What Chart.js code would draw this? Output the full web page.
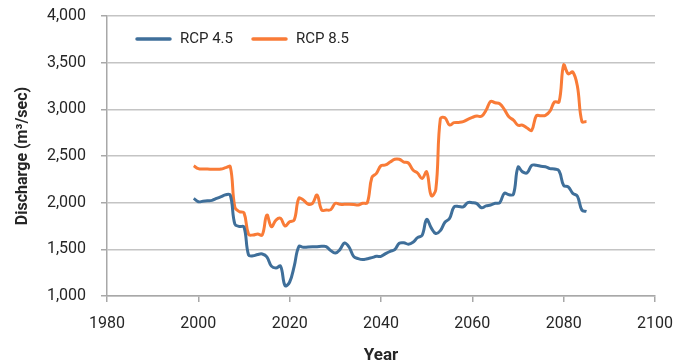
<!DOCTYPE html>
<html>
<head>
<meta charset="utf-8">
<script src="https://cdn.jsdelivr.net/npm/chart.js@4/dist/chart.umd.min.js"></script>
<style>
  body { margin: 0; background: #fff; }
  #wrap { width: 681px; height: 364px; }
</style>
</head>
<body>
<div id="wrap"><canvas id="dischargeChart" width="681" height="364"></canvas></div>
<script>
// Annual discharge, 1999-2085
const years = [];
for (let y = 1999; y <= 2085; y++) years.push(y);

const rcp45 = [
  2046, 2010, 2015, 2020, 2025, 2045, 2065, 2085, 2080, 1770,
  1745, 1740, 1440, 1430, 1445, 1450, 1420, 1320, 1300, 1320,
  1110, 1150, 1320, 1530, 1522, 1525, 1527, 1528, 1532, 1530,
  1486, 1461, 1497, 1568, 1525, 1425, 1400, 1390, 1400, 1411,
  1425, 1425, 1454, 1479, 1497, 1565, 1570, 1555, 1575, 1625,
  1650, 1820, 1730, 1670, 1700, 1790, 1830, 1955, 1960, 1955,
  2000, 2000, 1990, 1945, 1965, 1975, 1993, 2000, 2100, 2085,
  2090, 2380, 2330, 2320, 2400, 2400, 2390, 2385, 2365, 2360,
  2340, 2185, 2170, 2100, 2070, 1920, 1907
];

const rcp85 = [
  2395, 2365, 2360, 2360, 2358, 2357, 2360, 2375, 2385, 1950,
  1904, 1890, 1660, 1654, 1664, 1654, 1868, 1743, 1814, 1832,
  1750, 1796, 1814, 2046, 2029, 1986, 1993, 2082, 1921, 1921,
  1925, 1993, 1982, 1982, 1982, 1980, 1975, 1993, 2000, 2270,
  2314, 2396, 2404, 2435, 2465, 2465, 2435, 2425, 2350, 2318,
  2260, 2330, 2075, 2140, 2900, 2910, 2832, 2857, 2860, 2868,
  2893, 2914, 2928, 2925, 2990, 3085, 3070, 3060, 3000, 2920,
  2885, 2830, 2830, 2800, 2775, 2930, 2932, 2935, 2980, 3080,
  3080, 3475, 3380, 3400, 3250, 2868, 2870
];

const BLUE = '#3f6f9a';
const ORANGE = '#f97b37';
const GRID = '#c4c4c4';
const AXIS = '#a8a8a8';
const TEXT = '#262626';

const toPoints = (vals) => vals.map((v, i) => ({ x: years[i], y: v }));

// single-row legend inside the plot, top-left, line swatches
const inlineLegend = {
  id: 'inlineLegend',
  afterDraw(chart) {
    const { ctx, chartArea } = chart;
    let x = chartArea.left + 30;
    const y = chartArea.top + 23;
    ctx.save();
    ctx.font = '15px Roboto';
    ctx.textBaseline = 'middle';
    chart.data.datasets.forEach(ds => {
      ctx.strokeStyle = ds.borderColor;
      ctx.lineWidth = 3.5;
      ctx.lineCap = 'round';
      ctx.beginPath();
      ctx.moveTo(x, y);
      ctx.lineTo(x + 33, y);
      ctx.stroke();
      x += 43;
      ctx.fillStyle = TEXT;
      ctx.fillText(ds.label, x, y);
      x += ctx.measureText(ds.label).width + 20;
    });
    ctx.restore();
  }
};

new Chart(document.getElementById('dischargeChart'), {
  type: 'line',
  plugins: [inlineLegend],
  data: {
    datasets: [
      {
        label: 'RCP 4.5',
        data: toPoints(rcp45),
        borderColor: BLUE,
        backgroundColor: BLUE,
        borderWidth: 3,
        tension: 0.4,
        pointRadius: 0
      },
      {
        label: 'RCP 8.5',
        data: toPoints(rcp85),
        borderColor: ORANGE,
        backgroundColor: ORANGE,
        borderWidth: 3,
        tension: 0.4,
        pointRadius: 0
      }
    ]
  },
  options: {
    responsive: false,
    animation: false,
    layout: { padding: { top: 16, right: 26, left: 0, bottom: 0 } },
    plugins: {
      tooltip: { enabled: false },
      legend: { display: false }
    },
    scales: {
      x: {
        type: 'linear',
        min: 1980,
        max: 2100,
        afterFit: (scale) => {
          scale.height = 68;
          scale.paddingLeft = 0;
          scale.paddingRight = 0;
        },
        ticks: {
          stepSize: 20,
          color: TEXT,
          padding: 12,
          maxRotation: 0,
          font: { family: 'Roboto', size: 16 },
          callback: (v) => String(v)
        },
        grid: { drawOnChartArea: false, drawTicks: true, tickLength: 6, color: AXIS, lineWidth: 1.5 },
        border: { color: AXIS, width: 1.5 },
        title: {
          display: true,
          text: 'Year',
          color: TEXT,
          font: { family: 'Roboto', size: 17, weight: 'bold' },
          padding: { top: 0, bottom: -2 }
        }
      },
      y: {
        min: 1000,
        max: 4000,
        afterFit: (scale) => {
          scale.width = 107;
          scale.paddingTop = 0;
          scale.paddingBottom = 0;
        },
        ticks: {
          stepSize: 500,
          color: TEXT,
          padding: 15,
          font: { family: 'Roboto', size: 16 },
          callback: (v) => v.toLocaleString('en-US')
        },
        grid: { color: GRID, lineWidth: 1.5, tickLength: 6, tickColor: AXIS },
        border: { color: AXIS, width: 1.5 },
        title: {
          display: true,
          text: 'Discharge (m³/sec)',
          color: TEXT,
          font: { family: 'Roboto', size: 16, weight: 'bold' },
          padding: { top: 13, bottom: 0 }
        }
      }
    }
  }
});
</script>
</body>
</html>
